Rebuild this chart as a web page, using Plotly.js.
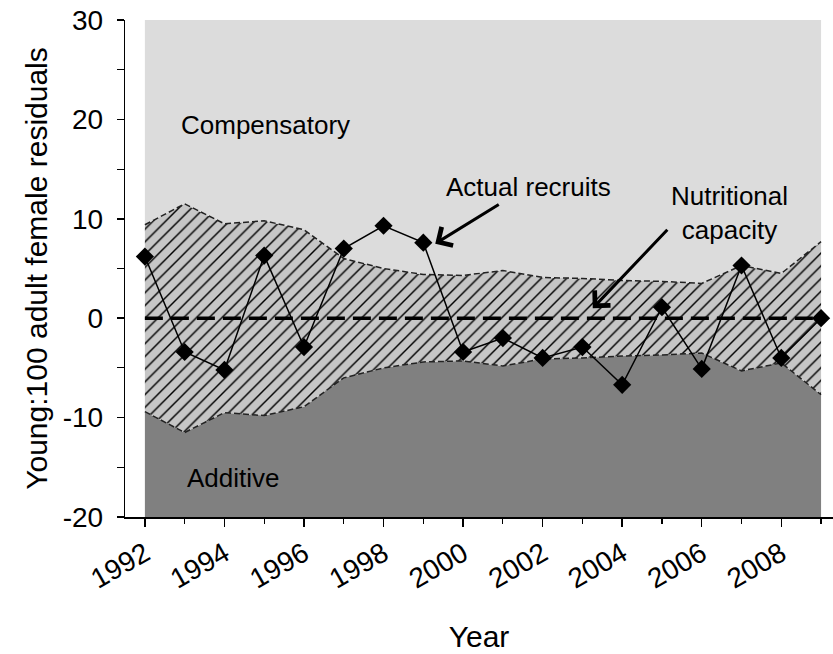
<!DOCTYPE html>
<html>
<head>
<meta charset="utf-8">
<script src="https://cdn.plot.ly/plotly-3.0.1.min.js"></script>
<style>html,body{margin:0;padding:0;background:#fff;}#chart{width:833px;height:654px;}</style>
</head>
<body>
<div id="chart"></div>
<script>
// ---- data ----
const years = [1992,1993,1994,1995,1996,1997,1998,1999,2000,2001,2002,2003,2004,2005,2006,2007,2008,2009];
const upperBound = [9.4,11.5,9.5,9.8,8.9,6.0,5.0,4.4,4.3,4.8,4.1,4.0,3.8,3.7,3.5,5.3,4.5,7.7];
const lowerBound = [-9.4,-11.5,-9.5,-9.8,-8.9,-6.0,-5.0,-4.4,-4.3,-4.8,-4.1,-4.0,-3.8,-3.7,-3.5,-5.3,-4.5,-7.7];
const recruits = [6.2,-3.4,-5.2,6.3,-2.9,7.0,9.3,7.6,-3.4,-2.0,-4.0,-2.9,-6.7,1.1,-5.1,5.3,-4.0,0.0];
const capacity = [0,0,0,0,0,0,0,0,0,0,0,0,0,0,0,0,0,0];
const yMin = -20, yMax = 30;
const yTickVals = [-20,-10,0,10,20,30];
const yTickText = ["-20","-10","0","10","20","30"];
const xTickVals = [1992,1994,1996,1998,2000,2002,2004,2006,2008];
const xTickText = ["1992","1994","1996","1998","2000","2002","2004","2006","2008"];

const FONT = "Arial, 'Liberation Sans', sans-serif";
const NB = '\u00a0';
const floor = years.map(() => yMin);
const ceil = years.map(() => yMax);

const traces = [
  {x: years, y: floor, mode: 'lines', line: {width: 0}, hoverinfo: 'skip', showlegend: false},
  {x: years, y: lowerBound, mode: 'lines', fill: 'tonexty', fillcolor: '#808080',
   line: {color: '#222', width: 1.5, dash: '6px,3px'}, showlegend: false},
  {x: years, y: upperBound, mode: 'lines', fill: 'tonexty', fillcolor: '#c6c6c6',
   fillpattern: {shape: '/', bgcolor: '#c6c6c6', fgcolor: '#000', size: 9, solidity: 0.16},
   line: {color: '#222', width: 1.5, dash: '6px,3px'}, showlegend: false},
  {x: years, y: ceil, mode: 'lines', fill: 'tonexty', fillcolor: '#dcdcdc',
   line: {width: 0}, showlegend: false},
  {x: years, y: capacity, mode: 'lines', line: {color: '#000', width: 3.5, dash: '18px,8px'}, showlegend: false},
  {x: years, y: recruits, mode: 'lines+markers', line: {color: '#000', width: 1.5},
   marker: {symbol: 'diamond', size: 14, color: '#000'}, showlegend: false}
];

const annFont = {family: FONT, size: 26, color: '#000'};
const layout = {
  width: 833, height: 654,
  margin: {l: 125, r: 0, t: 20, b: 137},
  paper_bgcolor: '#fff', plot_bgcolor: '#fff',
  showlegend: false,
  font: {family: FONT, color: '#000'},
  xaxis: {
    range: [1991.5, 2009.3], showgrid: false, zeroline: false,
    showline: true, linecolor: '#000', linewidth: 1.5,
    tickmode: 'array', tickvals: xTickVals, ticktext: xTickText,
    ticks: 'outside', ticklen: 8, tickwidth: 1.5, tickcolor: '#000',
    minor: {dtick: 1, tick0: 1991, ticks: 'outside', ticklen: 5, tickwidth: 1.2, tickcolor: '#000', showgrid: false},
    tickangle: -30, tickfont: {family: FONT, size: 28},
    title: {text: NB + 'Year', font: {family: FONT, size: 30}, standoff: 32}
  },
  yaxis: {
    range: [yMin, yMax], showgrid: false, zeroline: false,
    showline: true, linecolor: '#000', linewidth: 1.5,
    tickmode: 'array', tickvals: yTickVals, ticktext: yTickText.map(t => t + NB),
    ticks: 'outside', ticklen: 7, tickwidth: 1.5, tickcolor: '#000',
    minor: {tickmode: 'array', tickvals: [-15,-5,5,15,25], ticks: 'outside', ticklen: 7, tickwidth: 1.2, tickcolor: '#000', showgrid: false},
    tickfont: {family: FONT, size: 28},
    title: {text: 'Young:100 adult female residuals' + NB + NB + NB + NB, font: {family: FONT, size: 30}, standoff: 6}
  },
  annotations: [
    {x: 1992.85, y: 19.4, xanchor: 'left', yanchor: 'middle', text: 'Compensatory', showarrow: false, font: annFont},
    {x: 1993.0, y: -16.1, xanchor: 'left', yanchor: 'middle', text: 'Additive', showarrow: false, font: annFont},
    {x: 2001.65, y: 13.2, xanchor: 'center', yanchor: 'middle', text: 'Actual recruits', showarrow: false, font: annFont},
    {x: 2006.7, y: 10.6, xanchor: 'center', yanchor: 'middle', text: 'Nutritional<br>capacity', showarrow: false, font: annFont},
    {x: 1999.3, y: 7.5, text: '', showarrow: true, arrowhead: 4, arrowsize: 1.4, arrowwidth: 3, arrowcolor: '#000', ax: 65, ay: -40},
    {x: 2003.26, y: 1.0, text: '', showarrow: true, arrowhead: 4, arrowsize: 1.4, arrowwidth: 3, arrowcolor: '#000', ax: 76, ay: -80}
  ]
};

Plotly.newPlot('chart', traces, layout, {displayModeBar: false, staticPlot: true});
</script>
</body>
</html>
